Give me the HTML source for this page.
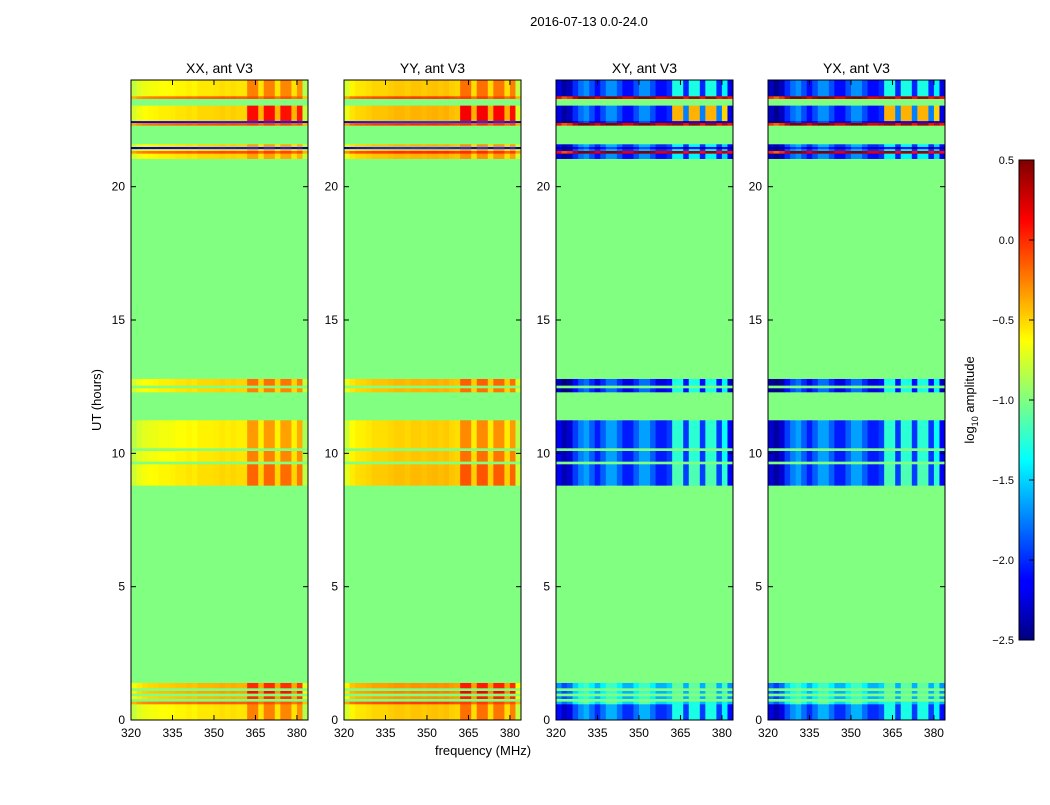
<!DOCTYPE html>
<html><head><meta charset="utf-8">
<style>
body{margin:0;background:#fff;width:1050px;height:800px;overflow:hidden;font-family:"Liberation Sans",sans-serif}
svg text{font-family:"Liberation Sans",sans-serif;fill:#000}
</style></head>
<body>
<svg id="chart" width="1050" height="800" viewBox="0 0 1050 800">
<defs>
<linearGradient id="jet" x1="0" y1="1" x2="0" y2="0">
<stop offset="0" stop-color="#00007f"/><stop offset="0.11" stop-color="#0000ff"/><stop offset="0.125" stop-color="#0000ff"/>
<stop offset="0.375" stop-color="#00ffff"/><stop offset="0.5" stop-color="#80ff80"/><stop offset="0.625" stop-color="#ffff00"/>
<stop offset="0.875" stop-color="#ff0000"/><stop offset="1" stop-color="#7f0000"/>
</linearGradient>
</defs>
<text x="589" y="26" font-size="13" text-anchor="middle">2016-07-13 0.0-24.0</text>
<text transform="translate(101,400) rotate(-90)" font-size="13" text-anchor="middle">UT (hours)</text>
<text x="483" y="755" font-size="13" text-anchor="middle">frequency (MHz)</text>
<g id="panels"></g>
<g id="cbar">
<rect x="1019" y="160" width="15" height="480" fill="url(#jet)" stroke="#000" stroke-width="1"/>
</g>
<text transform="translate(974,400) rotate(-90)" font-size="13" text-anchor="middle">log<tspan font-size="9" dy="4">10</tspan><tspan dy="-4"> amplitude</tspan></text>
</svg>
<script>
const pols = ["XX","YY","XY","YX"];
const panelLeft = [131,344,556,768];
const freqBins = [320,322,324,326,328,330,332,334,336,338,340,342,344,346,348,350,352,354,356,358,360,362,364,366,368,370,372,374,376,378,380,382];
const xxBase = [-0.8,-0.72,-0.68,-0.66,-0.65,-0.63,-0.63,-0.62,-0.6,-0.6,-0.58,-0.6,-0.56,-0.56,-0.56,-0.55,-0.53,-0.55,-0.53,-0.55,-0.55,-0.5,-0.5,-0.62,-0.5,-0.5,-0.62,-0.52,-0.52,-0.62,-0.55,-0.85];
const yyBase = [-0.75,-0.6,-0.56,-0.55,-0.53,-0.5,-0.5,-0.5,-0.48,-0.46,-0.46,-0.48,-0.45,-0.45,-0.47,-0.45,-0.44,-0.46,-0.44,-0.48,-0.5,-0.45,-0.45,-0.6,-0.45,-0.45,-0.6,-0.47,-0.47,-0.6,-0.5,-0.8];
const xyBase = [-2.1,-2.3,-2.2,-1.9,-1.7,-1.6,-1.8,-2.0,-1.8,-1.6,-1.6,-1.8,-2.0,-2.0,-1.8,-1.6,-1.6,-1.8,-2.0,-2.0,-1.9,-1.8,-1.8,-2.1,-1.8,-1.8,-2.1,-1.8,-1.8,-2.1,-1.9,-2.1];
const yxBase = [-2.2,-2.35,-2.2,-1.9,-1.7,-1.6,-1.8,-2.0,-1.8,-1.6,-1.6,-1.8,-2.0,-2.0,-1.8,-1.6,-1.6,-1.8,-2.0,-2.0,-1.9,-1.8,-1.8,-2.1,-1.8,-1.8,-2.1,-1.8,-1.8,-2.1,-1.9,-2.1];
const rfiProfile = [0,0,0,0,0,0,0,0,0,0,0,0,0,0,0,0,0,0,0,0,0,1,1,0.3,1,1,0.3,1,1,0.3,1,0];
// [t0, t1, parallelOffset, crossOffset, parallelRfi, crossRfi]; null = flagged (fill)
const bandStart = [0,0.6,0.7,0.8,0.9,1.0,1.1,1.2,1.4,8.8,9.6,9.7,10.1,10.2,11.25,12.3,12.45,12.55,12.8,21.05,21.25,21.35,21.42,21.5,21.6,22.3,22.4,22.47,23.05,23.3,23.4];
const bandEnd   = [0.6,0.7,0.8,0.9,1.0,1.1,1.2,1.4,8.8,9.6,9.7,10.1,10.2,11.25,12.3,12.45,12.55,12.8,21.05,21.25,21.35,21.42,21.5,21.6,22.3,22.4,22.47,23.05,23.3,23.4,24];
const bandParOff = [0,0.4,null,0.15,null,0.2,null,0.15,null,0.03,null,0.0,null,-0.03,null,0.05,null,0.05,null,0.05,0.45,0.0,-1.5,0.05,null,0.45,-1.5,0.05,null,0.4,0.0];
const bandCrossOff = [0,0.5,null,0.4,null,0.4,null,0.4,null,-0.05,null,-0.05,null,-0.05,null,-0.2,null,-0.2,null,-0.1,2.2,0,-0.3,0,null,2.2,-0.3,-0.1,null,2.2,-0.1];
const bandParRfi = [0.25,0,0,0.35,0,0.4,0,0.35,0,0.3,0,0.25,0,0.2,0,0.2,0,0.25,0,0.1,0,0.1,0,0.1,0,0,0,0.55,0,0,0.25];
const bandCrossRfi = [0.5,0,0,0.3,0,0.3,0,0.3,0,0.7,0,0.6,0,0.6,0,0.7,0,0.7,0,0.5,0,0.4,0,0.4,0,0,0,1.5,0,0,0.6];
const FILL = -1.0, VMIN=-2.5, VMAX=0.5;
const yTicks=[0,5,10,15,20], xTicks=[320,335,350,365,380], cbTicks=[0.5,0.0,-0.5,-1.0,-1.5,-2.0,-2.5];
const cbLabels=["0.5","0.0","\u22120.5","\u22121.0","\u22121.5","\u22122.0","\u22122.5"];
const PW=177, TOP=80, BOT=720, F0=320, F1=384;
const NS="http://www.w3.org/2000/svg";
function ys(t){return BOT-(t/24)*(BOT-TOP);}
function jet(v){let x=(v-VMIN)/(VMAX-VMIN);x=Math.max(0,Math.min(1,x));
 const c=a=>Math.round(255*Math.max(0,Math.min(1,1.5-Math.abs(4*x-a))));
 return `rgb(${c(3)},${c(2)},${c(1)})`;}
function el(tag,attrs,parent){const e=document.createElementNS(NS,tag);for(const k in attrs)e.setAttribute(k,attrs[k]);parent.appendChild(e);return e;}
const bases={XX:xxBase,YY:yyBase,XY:xyBase,YX:yxBase};
const root=document.getElementById('panels');
pols.forEach((p,pi)=>{
 const L=panelLeft[pi];
 const xs=f=>L+(f-F0)/(F1-F0)*PW;
 const g=el('g',{},root);
 
 
 const cross=(p==="XY"||p==="YX");
 const base=bases[p];
 bandStart.forEach((t0,bi)=>{
  const t1=bandEnd[bi];
  const off=cross?bandCrossOff[bi]:bandParOff[bi];
  const rf=cross?bandCrossRfi[bi]:bandParRfi[bi];
  if(off===null){
   const r=el('rect',{x:L,y:ys(t1),width:PW,height:ys(t0)-ys(t1)+0.3,fill:jet(FILL)},g);
   
   
   return;}
  freqBins.forEach((f,fi)=>{
   const v=base[fi]+off+rfiProfile[fi]*rf;
   const x0=xs(f),x1=xs(f+2);
   const r=el('rect',{x:x0,y:ys(t1),width:x1-x0+0.4,height:ys(t0)-ys(t1)+0.3,fill:jet(v)},g);
   
   
  });
 });
 const fr=el('rect',{x:L,y:TOP,width:PW,height:BOT-TOP,fill:'none',stroke:'#000','stroke-width':1},g);
 
 
 const ti=el('text',{x:L+PW/2,y:73,'font-size':14,'text-anchor':'middle'},g);ti.textContent=p+", ant V3";
 
 
 yTicks.forEach(t=>{const y=ys(t);
  el('line',{x1:L,x2:L+5,y1:y,y2:y,stroke:'#000'},g);el('line',{x1:L+PW-5,x2:L+PW,y1:y,y2:y,stroke:'#000'},g);
  const tx=el('text',{x:L-6,y:y+4,'font-size':12,'text-anchor':'end'},g);tx.textContent=t;
  
  });
 xTicks.forEach(f=>{const x=xs(f);
  el('line',{x1:x,x2:x,y1:BOT,y2:BOT-5,stroke:'#000'},g);el('line',{x1:x,x2:x,y1:TOP,y2:TOP+5,stroke:'#000'},g);
  const tx=el('text',{x:x,y:BOT+17,'font-size':12,'text-anchor':'middle'},g);tx.textContent=f;
  
  });
});
const cb=document.getElementById('cbar');
cbTicks.forEach((v,i)=>{const y=160+(VMAX-v)/(VMAX-VMIN)*480;
 el('line',{x1:1029,x2:1034,y1:y,y2:y,stroke:'#000'},cb);
 const tx=el('text',{x:1014,y:y+4,'font-size':11,'text-anchor':'end'},cb);tx.textContent=cbLabels[i];
 
 });
</script>
</body></html>
